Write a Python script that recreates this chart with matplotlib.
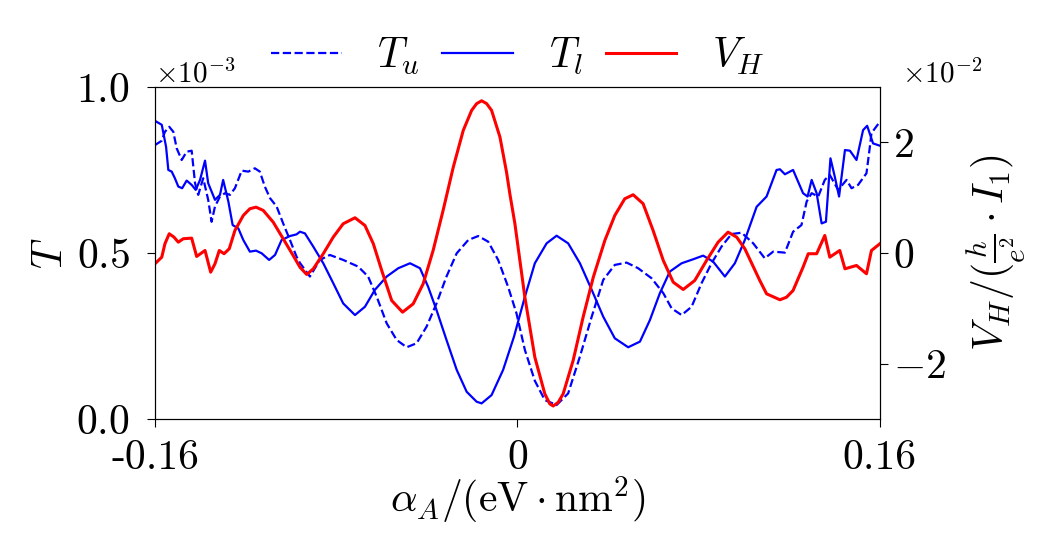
import numpy as np
import matplotlib
matplotlib.use('Agg')
import matplotlib.pyplot as plt

plt.rcParams['font.family'] = 'serif'
plt.rcParams['font.serif'] = ['cmr10']
plt.rcParams['mathtext.fontset'] = 'cm'
plt.rcParams['axes.formatter.use_mathtext'] = True
plt.rcParams['axes.unicode_minus'] = True
plt.rcParams['lines.solid_joinstyle'] = 'round'
plt.rcParams['lines.dash_joinstyle'] = 'round'

# T_l (solid), values in units of 1e-3
x_l = [-0.16, -0.1570, -0.1551, -0.1541, -0.1526, -0.1512, -0.1497, -0.1480, -0.1460, -0.1438,
       -0.1420, -0.1401, -0.1379, -0.1365, -0.1335, -0.1313, -0.1299, -0.1276, -0.1257, -0.1232,
       -0.1210, -0.1181, -0.1154, -0.1129, -0.1096, -0.1070, -0.1041, -0.1004, -0.0975, -0.0960,
       -0.0938, -0.0901, -0.0857, -0.0813, -0.0769, -0.0717, -0.0673, -0.0629, -0.0577, -0.0526,
       -0.0474, -0.0430, -0.0394, -0.0357, -0.0313, -0.0268, -0.0224, -0.0180, -0.0158, -0.0114,
       -0.0063, -0.0015, 0.0033, 0.0077, 0.0129, 0.0173, 0.0224, 0.0276, 0.0328, 0.0379,
       0.0430, 0.0489, 0.0541, 0.0585, 0.0629, 0.0673, 0.0725, 0.0776, 0.0820, 0.0864,
       0.0916, 0.0960, 0.1004, 0.1056, 0.1100, 0.1144, 0.1159, 0.1181, 0.1217, 0.1261,
       0.1281, 0.1299, 0.1321, 0.1343, 0.1362, 0.1382, 0.1401, 0.1420, 0.1446, 0.1468,
       0.1497, 0.1526, 0.1544, 0.1570, 0.16]
t_l = [0.898, 0.886, 0.820, 0.750, 0.745, 0.725, 0.700, 0.695, 0.718, 0.705,
       0.690, 0.720, 0.778, 0.710, 0.660, 0.675, 0.720, 0.655, 0.584, 0.574,
       0.539, 0.504, 0.507, 0.499, 0.479, 0.494, 0.539, 0.551, 0.556, 0.564,
       0.559, 0.519, 0.469, 0.409, 0.348, 0.313, 0.338, 0.389, 0.429, 0.454,
       0.469, 0.454, 0.398, 0.328, 0.238, 0.148, 0.082, 0.052, 0.047, 0.072,
       0.148, 0.248, 0.368, 0.469, 0.529, 0.552, 0.529, 0.469, 0.389, 0.308,
       0.243, 0.216, 0.233, 0.298, 0.379, 0.444, 0.469, 0.481, 0.492, 0.474,
       0.429, 0.469, 0.539, 0.639, 0.670, 0.750, 0.752, 0.737, 0.750, 0.680,
       0.670, 0.720, 0.680, 0.589, 0.594, 0.785, 0.730, 0.670, 0.810, 0.808,
       0.780, 0.870, 0.883, 0.830, 0.823]

# T_u (dashed), values in units of 1e-3
x_u = [-0.16, -0.1570, -0.1556, -0.1537, -0.1519, -0.1504, -0.1482, -0.1460, -0.1438, -0.1423,
       -0.1409, -0.1387, -0.1365, -0.1350, -0.1335, -0.1313, -0.1291, -0.1269, -0.1247, -0.1217,
       -0.1188, -0.1159, -0.1137, -0.1115, -0.1092, -0.1063, -0.1034, -0.1004, -0.0975, -0.0960,
       -0.0916, -0.0872, -0.0828, -0.0769, -0.0703, -0.0659, -0.0621, -0.0577, -0.0533, -0.0489,
       -0.0445, -0.0401, -0.0357, -0.0313, -0.0268, -0.0217, -0.0173, -0.0129, -0.0085, -0.0041,
       -0.0004, 0.0033, 0.0077, 0.0121, 0.0173, 0.0224, 0.0276, 0.0328, 0.0379, 0.0430,
       0.0482, 0.0533, 0.0592, 0.0644, 0.0681, 0.0725, 0.0769, 0.0813, 0.0857, 0.0901,
       0.0945, 0.0990, 0.1041, 0.1092, 0.1129, 0.1181, 0.1217, 0.1254, 0.1277, 0.1299,
       0.1328, 0.1357, 0.1379, 0.1416, 0.1453, 0.1475, 0.1504, 0.1541, 0.1556, 0.1563,
       0.16]
t_u = [0.825, 0.838, 0.865, 0.880, 0.865, 0.815, 0.780, 0.805, 0.808, 0.710,
       0.675, 0.725, 0.660, 0.594, 0.640, 0.670, 0.680, 0.675, 0.695, 0.748,
       0.745, 0.755, 0.745, 0.700, 0.665, 0.640, 0.589, 0.539, 0.489, 0.470,
       0.429, 0.479, 0.494, 0.479, 0.459, 0.429, 0.368, 0.288, 0.238, 0.216,
       0.228, 0.278, 0.348, 0.429, 0.499, 0.539, 0.551, 0.534, 0.479, 0.398,
       0.318, 0.208, 0.115, 0.057, 0.042, 0.077, 0.188, 0.308, 0.419, 0.464,
       0.471, 0.454, 0.424, 0.379, 0.333, 0.313, 0.338, 0.409, 0.469, 0.519,
       0.557, 0.561, 0.529, 0.484, 0.504, 0.501, 0.564, 0.584, 0.655, 0.680,
       0.670, 0.720, 0.735, 0.690, 0.720, 0.695, 0.705, 0.740, 0.820, 0.861,
       0.895]

# V_H, values in units of 1e-2
x_v = [-0.16, -0.1570, -0.1556, -0.1537, -0.1516, -0.1497, -0.1475, -0.1438, -0.1416, -0.1379,
       -0.1354, -0.1335, -0.1316, -0.1295, -0.1272, -0.1247, -0.1210, -0.1181, -0.1154, -0.1122,
       -0.1078, -0.1034, -0.0990, -0.0960, -0.0930, -0.0901, -0.0857, -0.0813, -0.0769, -0.0717,
       -0.0673, -0.0636, -0.0599, -0.0555, -0.0507, -0.0460, -0.0416, -0.0372, -0.0328, -0.0283,
       -0.0239, -0.0202, -0.0180, -0.0158, -0.0136, -0.0114, -0.0077, -0.0048, -0.0033, -0.0011,
       0.0033, 0.0077, 0.0121, 0.0143, 0.0158, 0.0180, 0.0202, 0.0246, 0.0290, 0.0335,
       0.0386, 0.0430, 0.0474, 0.0511, 0.0555, 0.0599, 0.0644, 0.0688, 0.0732, 0.0783,
       0.0835, 0.0886, 0.0930, 0.0968, 0.1004, 0.1070, 0.1100, 0.1159, 0.1188, 0.1217,
       0.1261, 0.1284, 0.1321, 0.1357, 0.1379, 0.1423, 0.1446, 0.1497, 0.1541, 0.1563,
       0.16]
v_h = [-0.195, -0.076, 0.166, 0.347, 0.286, 0.195, 0.257, 0.268, -0.063, 0.045,
       -0.347, -0.195, 0.045, -0.014, 0.076, 0.407, 0.678, 0.799, 0.828, 0.769,
       0.557, 0.257, -0.045, -0.257, -0.389, -0.286, -0.014, 0.286, 0.528, 0.636,
       0.497, 0.166, -0.316, -0.859, -1.070, -0.919, -0.557, 0.045, 0.769, 1.552,
       2.215, 2.577, 2.698, 2.750, 2.700, 2.577, 2.094, 1.461, 1.060, 0.528,
       -0.800, -1.884, -2.546, -2.727, -2.765, -2.700, -2.546, -1.944, -1.161, -0.438,
       0.226, 0.678, 0.980, 1.052, 0.890, 0.407, -0.136, -0.528, -0.660, -0.497,
       -0.136, 0.195, 0.376, 0.286, 0.076, -0.497, -0.738, -0.846, -0.800, -0.678,
       -0.257, -0.014, -0.014, 0.316, -0.076, 0.045, -0.286, -0.226, -0.376, 0.045,
       0.166]

fig = plt.figure(figsize=(10.4, 5.51), dpi=100)
ax = fig.add_axes([0.149, 0.2396, 0.697, 0.6026])
ax2 = ax.twinx()

l_u, = ax.plot(x_u, np.array(t_u) * 1e-3, color='#0000ff', lw=1.6, ls='--', label='$T_u$')
l_l, = ax.plot(x_l, np.array(t_l) * 1e-3, color='#0000ff', lw=1.6, label='$T_l$')
l_v, = ax2.plot(x_v, np.array(v_h) * 1e-2, color='#ff0000', lw=2.2, label='$V_H$')

ax.set_xlim(-0.16, 0.16)
ax.set_ylim(0, 1e-3)
ax2.set_ylim(-3e-2, 3e-2)
ax.set_xticks([-0.16, 0, 0.16])
ax.set_xticklabels(['-0.16', '0', '0.16'])
ax.set_yticks([0, 0.5e-3, 1e-3])
ax2.set_yticks([-2e-2, 0, 2e-2])
ax.ticklabel_format(axis='y', style='sci', scilimits=(0, 0))
ax2.ticklabel_format(axis='y', style='sci', scilimits=(0, 0))

ax.tick_params(axis='x', labelsize=30, length=6, pad=9)
ax.tick_params(axis='y', labelsize=30, length=6, pad=12)
ax2.tick_params(labelsize=30, length=6)
ax.yaxis.get_offset_text().set_fontsize(21)
off2 = ax2.yaxis.get_offset_text()
off2.set_fontsize(21)
off2.set_ha('left')
off2.set_x(1.03)

ax.set_xlabel(r'$\alpha_A/(\mathrm{eV}\cdot\mathrm{nm}^2)$', fontsize=30, labelpad=-2)
ax.set_ylabel('$T$', fontsize=30, labelpad=5)
ax2.set_ylabel(r'$V_H/(\frac{h}{e^2}\cdot I_1)$', fontsize=30, labelpad=13)

ax.legend(handles=[l_u, l_l, l_v], loc='center', bbox_to_anchor=(0.5, 1.093),
          ncol=3, frameon=False, fontsize=30, handlelength=1.7,
          handletextpad=0.85, columnspacing=0.55)

fig.savefig('out.png', dpi=100)
